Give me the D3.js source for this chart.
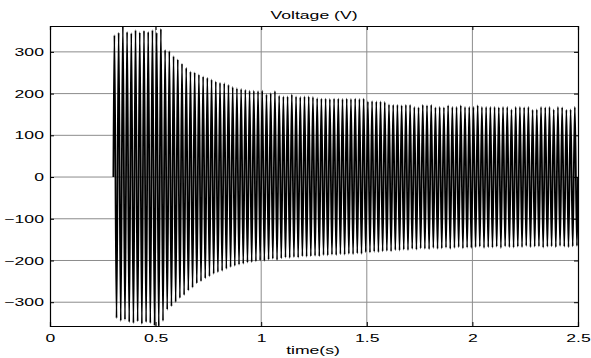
<!DOCTYPE html>
<html>
<head>
<meta charset="UTF-8">
<title>Voltage (V)</title>
<style>
  body { margin: 0; background: #fff; }
  text { font-family: "Liberation Sans", Arial, sans-serif; }
</style>
</head>
<body>
<div id="chart"></div>
<script src="https://cdn.jsdelivr.net/npm/d3@7"></script>
<script>
// signal starts at t = 0.3 s, one positive and one negative peak per 50 Hz cycle
var tStart = 0.3;
var freq = 50;
var xTicks = [0, 0.5, 1, 1.5, 2, 2.5];
var yTicks = [-300, -200, -100, 0, 100, 200, 300];

// positive peak of each cycle (V)
var posPeaks = [
  340, 346, 365, 348, 345, 352, 347, 351, 348, 352, 346, 355,
  305, 302, 290, 282, 272, 262, 253, 251, 246, 241, 238, 234,
  229, 226, 225, 221, 216, 213, 211, 209, 207, 207, 206, 207,
  198, 201, 206, 195, 193, 193, 198, 193, 192, 193, 193, 192,
  189, 188, 188, 187, 188, 188, 187, 188, 187, 188, 187, 188,
  181, 182, 181, 181, 180, 174, 173, 173, 172, 173, 173, 168,
  167, 173, 172, 173, 167, 168, 167, 172, 168, 168, 172, 168,
  168, 168, 172, 168, 168, 168, 168, 167, 168, 168, 162, 168,
  168, 167, 168, 161, 162, 168, 167, 168, 162, 168, 167, 161,
  162, 168
];
// negative peak of each cycle (V)
var negPeaks = [
  -338, -345, -342, -348, -350, -346, -352, -348, -350, -356, -358, -345,
  -318, -310, -300, -290, -283, -272, -265, -255, -250, -243, -238, -232,
  -228, -225, -220, -216, -213, -210, -208, -205, -204, -202, -200, -201,
  -198, -196, -199, -195, -193, -194, -192, -193, -190, -191, -190, -189,
  -190, -187, -188, -186, -187, -185, -186, -184, -185, -183, -184, -180,
  -181, -179, -180, -178, -177, -178, -175, -176, -174, -175, -172, -174,
  -171, -172, -173, -170, -172, -171, -169, -172, -170, -168, -171, -169,
  -170, -168, -167, -170, -168, -169, -167, -170, -166, -168, -169, -167,
  -168, -165, -168, -167, -166, -169, -167, -166, -168, -165, -167, -168,
  -166, -165
];

var width = 591, height = 358;
var margin = {top: 26, right: 13, bottom: 32, left: 50};
var stretch = "scale(1.6,1)";   // the original text is drawn wide

var svg = d3.select("#chart").append("svg")
  .attr("width", width)
  .attr("height", height);

var x = d3.scaleLinear()
  .domain([0, 2.5])
  .range([margin.left, width - margin.right]);
var y = d3.scaleLinear()
  .domain([-357, 362])
  .range([height - margin.bottom, margin.top]);

// build the point list: zero at start, then alternating peaks
var period = 1 / freq;
var pts = [[tStart, 0]];
posPeaks.forEach(function(p, k) {
  var t0 = tStart + k * period;
  pts.push([t0 + period / 4, p]);
  pts.push([t0 + 3 * period / 4, negPeaks[k]]);
});
pts.push([tStart + posPeaks.length * period, 0]);

// grid
svg.append("g")
  .selectAll("line")
  .data(xTicks.slice(1, -1))
  .join("line")
  .attr("x1", function(d) { return x(d); })
  .attr("x2", function(d) { return x(d); })
  .attr("y1", y.range()[0])
  .attr("y2", y.range()[1])
  .attr("stroke", "#8c8c8c")
  .attr("stroke-width", 1);
svg.append("g")
  .selectAll("line")
  .data(yTicks)
  .join("line")
  .attr("x1", x.range()[0])
  .attr("x2", x.range()[1])
  .attr("y1", function(d) { return y(d); })
  .attr("y2", function(d) { return y(d); })
  .attr("stroke", "#8c8c8c")
  .attr("stroke-width", 1);

svg.append("clipPath")
  .attr("id", "clip")
  .append("rect")
  .attr("x", x.range()[0])
  .attr("y", y.range()[1])
  .attr("width", x.range()[1] - x.range()[0])
  .attr("height", y.range()[0] - y.range()[1]);

var line = d3.line()
  .x(function(d) { return x(d[0]); })
  .y(function(d) { return y(d[1]); })
  .curve(d3.curveMonotoneX);

svg.append("path")
  .datum(pts)
  .attr("clip-path", "url(#clip)")
  .attr("fill", "none")
  .attr("stroke", "#000")
  .attr("stroke-width", 1.8)
  .attr("d", line);

// axes
var gx = svg.append("g")
  .attr("transform", "translate(0," + y.range()[0] + ")")
  .call(d3.axisBottom(x).tickValues(xTicks).tickSize(-4).tickFormat(d3.format("~g")));
gx.selectAll("text").attr("y", 16).attr("dy", 0);

var gxTop = svg.append("g")
  .attr("transform", "translate(0," + y.range()[1] + ")")
  .call(d3.axisTop(x).tickValues(xTicks).tickSize(-4).tickFormat(""));

var gy = svg.append("g")
  .attr("transform", "translate(" + x.range()[0] + ",0)")
  .call(d3.axisLeft(y).tickValues(yTicks).tickSize(-4));
gy.selectAll("text").attr("x", -3.8);

var gyRight = svg.append("g")
  .attr("transform", "translate(" + x.range()[1] + ",0)")
  .call(d3.axisRight(y).tickValues(yTicks).tickSize(-4).tickFormat(""));

[gx, gxTop, gy, gyRight].forEach(function(g) {
  g.select(".domain").attr("stroke", "#000").attr("stroke-width", 1.2);
  g.selectAll(".tick line").attr("stroke", "#000");
  g.selectAll("text")
    .attr("font-size", "11px")
    .attr("fill", "#000")
    .attr("transform", stretch)
    .style("font-family", "'Liberation Sans', Arial, sans-serif");
});

var cx = (x.range()[0] + x.range()[1]) / 2;
svg.append("text")
  .attr("transform", "translate(" + cx + ",19) " + stretch)
  .attr("text-anchor", "middle")
  .attr("font-size", "11px")
  .text("Voltage (V)");

svg.append("text")
  .attr("transform", "translate(" + (cx - 1) + ",354) " + stretch)
  .attr("text-anchor", "middle")
  .attr("font-size", "11px")
  .text("time(s)");
</script>
</body>
</html>
